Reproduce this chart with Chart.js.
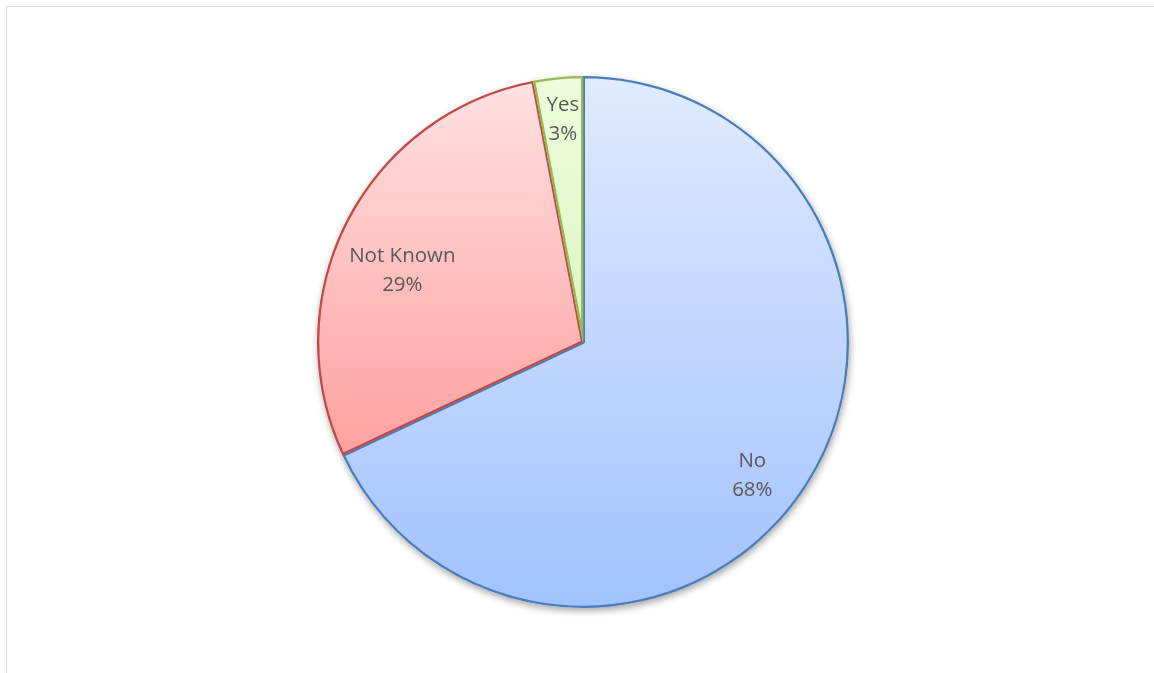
<!DOCTYPE html>
<html>
<head>
<meta charset="utf-8">
<script src="https://cdn.jsdelivr.net/npm/chart.js@4"></script>
<style>
  html, body { margin: 0; padding: 0; background: #fff; overflow: hidden; }
  #frame { position: absolute; left: 6px; top: 6px; width: 1200px; height: 720px;
           border-left: 1.5px solid #d9d9d9; border-top: 1.5px solid #d9d9d9; }
  #wrap { position: absolute; left: 0; top: 0; width: 1154px; height: 673px; }
</style>
</head>
<body>
<div id="frame"></div>
<div id="wrap"><canvas id="c"></canvas></div>
<script>
const categories = ["No", "Not Known", "Yes"];
const values = [68, 29, 3];
const percentLabels = ["68%", "29%", "3%"];
const topColors = ["#e0ebfe", "#ffe1e1", "#edfddc"];
const bottomColors = ["#a2c2fd", "#ffa0a0", "#dcf6c2"];
const borderColors = ["#4a7ebb", "#be4b48", "#98b954"];

const total = values.reduce((a, b) => a + b, 0);

function sliceYRange(chart, i) {
  const ca = chart.chartArea;
  const cx = (ca.left + ca.right) / 2, cy = (ca.top + ca.bottom) / 2;
  const r = Math.min(ca.right - ca.left, ca.bottom - ca.top) / 2;
  let cum = 0;
  for (let k = 0; k < i; k++) cum += values[k];
  const a0 = -Math.PI / 2 + 2 * Math.PI * cum / total;
  const a1 = a0 + 2 * Math.PI * values[i] / total;
  const ys = [cy, cy + r * Math.sin(a0), cy + r * Math.sin(a1)];
  const inRange = (a) => {
    let t = a;
    while (t < a0) t += 2 * Math.PI;
    return t <= a1;
  };
  if (inRange(-Math.PI / 2)) ys.push(cy - r);
  if (inRange(Math.PI / 2)) ys.push(cy + r);
  return [Math.min(...ys), Math.max(...ys)];
}

const shadowPlugin = {
  id: 'pieShadow',
  beforeDatasetsDraw(chart) {
    const el = chart.getDatasetMeta(0).data[0];
    if (!el) return;
    const ctx = chart.ctx;
    ctx.save();
    ctx.shadowColor = 'rgba(0,0,0,0.35)';
    ctx.shadowBlur = 7;
    ctx.shadowOffsetX = 1;
    ctx.shadowOffsetY = 3;
    ctx.beginPath();
    ctx.arc(el.x, el.y, el.outerRadius, 0, Math.PI * 2);
    ctx.fillStyle = '#ffffff';
    ctx.fill();
    ctx.restore();
  }
};

const labelPlugin = {
  id: 'sliceLabels',
  afterDatasetsDraw(chart, args, opts) {
    const meta = chart.getDatasetMeta(0);
    const ctx = chart.ctx;
    ctx.save();
    ctx.font = '20.5px "Open Sans", "DejaVu Sans", sans-serif';
    ctx.fillStyle = '#595959';
    ctx.textAlign = 'center';
    ctx.textBaseline = 'middle';
    meta.data.forEach((el, i) => {
      const p = opts.placement[i];
      const mid = (el.startAngle + el.endAngle) / 2 + p.da * Math.PI / 180;
      const r = el.outerRadius * p.r;
      const x = el.x + Math.cos(mid) * r;
      const y = el.y + Math.sin(mid) * r;
      ctx.fillText(categories[i], x, y - 14.5);
      ctx.fillText(percentLabels[i], x, y + 14.5);
    });
    ctx.restore();
  }
};

new Chart(document.getElementById('c'), {
  type: 'pie',
  data: {
    labels: categories,
    datasets: [{
      data: values,
      backgroundColor(ctx) {
        const chart = ctx.chart;
        if (!chart.chartArea) return topColors[ctx.dataIndex];
        const i = ctx.dataIndex;
        const [y0, y1] = sliceYRange(chart, i);
        const g = chart.ctx.createLinearGradient(0, y0, 0, y1);
        g.addColorStop(0, topColors[i]);
        g.addColorStop(1, bottomColors[i]);
        return g;
      },
      borderColor: borderColors,
      borderWidth: 2,
      borderAlign: 'inner'
    }]
  },
  options: {
    responsive: true,
    maintainAspectRatio: false,
    animation: false,
    layout: { padding: { left: 12, right: 0, top: 76, bottom: 65 } },
    plugins: {
      legend: { display: false },
      tooltip: { enabled: false },
      sliceLabels: {
        placement: [ { r: 0.81, da: 5.8 }, { r: 0.73, da: -5.5 }, { r: 0.838, da: 0.2 } ]
      }
    }
  },
  plugins: [shadowPlugin, labelPlugin]
});
</script>
</body>
</html>
